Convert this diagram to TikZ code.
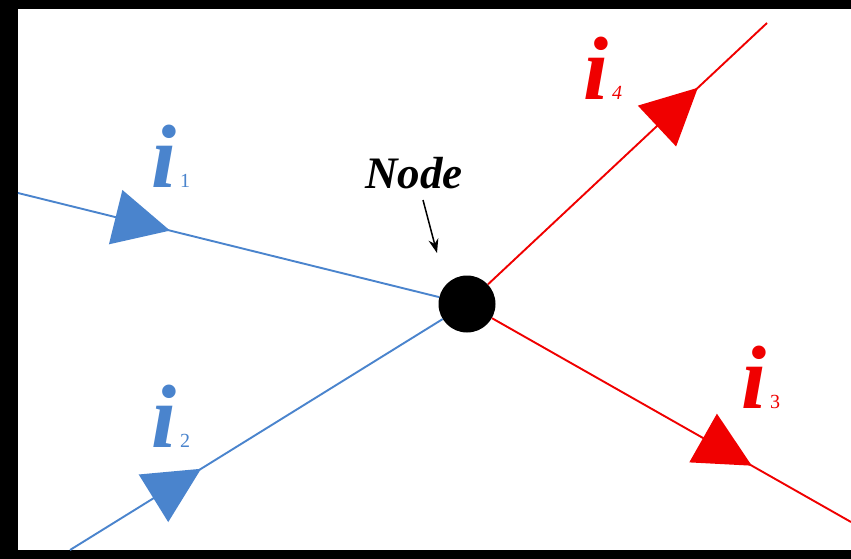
\documentclass[tikz,border=0pt]{standalone}
\usepackage{fontspec}
\setmainfont{Liberation Serif}
\usetikzlibrary{decorations.markings,arrows.meta}
\definecolor{cblue}{RGB}{74,132,205}
\definecolor{cred}{RGB}{240,0,0}
\begin{document}
\begin{tikzpicture}[x=1pt,y=-1pt,
  wire/.style={line width=1.9pt},
  tri/.style 2 args={postaction={decorate},decoration={markings,
     mark=at position #1 with {\fill[#2] (0,0) -- (-56,28) -- (-56,-28) -- cycle;}}},
  ilabel/.style={anchor=base west,inner sep=0pt,text=#1}
  ]
\fill[black] (0,0) rectangle (851,559);
\fill[white] (18,9) rectangle (851,550);
\useasboundingbox (0,0) rectangle (851,559);

\node[circle,fill=black,minimum size=57pt,inner sep=0pt] (n) at (467,304) {};
\coordinate (a1) at (18,193);
\coordinate (a2) at (70,550);
\coordinate (a3) at (851,522);
\coordinate (a4) at (767,23);

\draw[wire,cblue,tri={156.6pt}{cblue}] (a1) -- (n);
\draw[wire,cblue,tri={154.2pt}{cblue}] (a2) -- (n);
\draw[wire,cred,tri={298.8pt}{cred}] (n) -- (a3);
\draw[wire,cred,tri={287.6pt}{cred}] (n) -- (a4);

\node[ilabel=cblue] (l1) at (151,187) {{\fontsize{90}{90}\selectfont\bfseries\itshape i}\hspace{4pt}{\fontsize{20}{20}\selectfont 1}};
\node[ilabel=cblue] (l2) at (151,447) {{\fontsize{90}{90}\selectfont\bfseries\itshape i}\hspace{4pt}{\fontsize{20}{20}\selectfont 2}};
\node[ilabel=cred] (l3) at (741,408) {{\fontsize{90}{90}\selectfont\bfseries\itshape i}\hspace{4pt}{\fontsize{20}{20}\selectfont 3}};
\node[ilabel=cred] (l4) at (583,100) {{\fontsize{90}{90}\selectfont\bfseries\itshape i}\hspace{4pt}{\fontsize{20}{20}\selectfont\itshape 4}};

\node[anchor=base west,inner sep=0pt,font=\fontsize{45}{45}\selectfont\bfseries\itshape] (lbl) at (365,188) {Node};
\coordinate (ns) at (423,200);
\coordinate (nt) at (437,253);
\draw[line width=1.5pt,-{Stealth[length=14pt,width=10pt]}] (ns) -- (nt);
\end{tikzpicture}
\end{document}
